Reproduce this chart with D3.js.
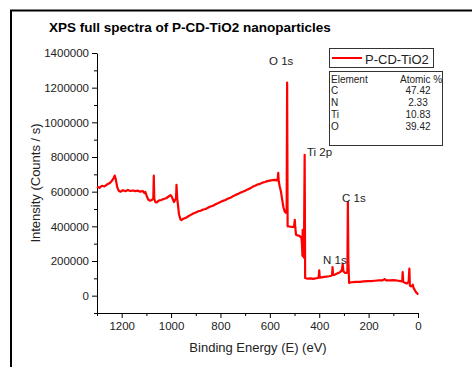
<!DOCTYPE html>
<html>
<head>
<meta charset="utf-8">
<script src="https://cdn.jsdelivr.net/npm/d3@7"></script>
<style>
  body { margin: 0; background: #fff; }
  text { font-family: "Liberation Sans", Arial, sans-serif; fill: #222; }
</style>
</head>
<body>
<div id="chart"></div>
<script>
// spectrum: binding energy (eV) and counts (thousands / s)
const bindingEnergy = [
  1300, 1290, 1280, 1270, 1260, 1250, 1240, 1232, 1228, 1224, 1218, 1212, 1205, 1195, 1185,
  1175, 1165, 1155, 1145, 1135, 1125, 1115, 1108, 1104, 1098, 1092, 1085, 1078, 1072, 1070,
  1068, 1064, 1058, 1050, 1040, 1030, 1020, 1010, 1002, 998, 993, 988, 984, 980, 978,
  975, 968, 962, 958, 950, 940, 930, 920, 910, 900, 890, 880, 870, 860, 850,
  840, 830, 820, 810, 800, 790, 780, 770, 760, 750, 740, 730, 720, 710, 700,
  690, 680, 670, 660, 650, 640, 630, 620, 610, 600, 590, 580, 572, 568, 566,
  564, 560, 555, 550, 545, 540, 535, 532, 530, 528, 520, 510, 502, 499, 497,
  494, 488, 482, 476, 472, 470, 468, 467, 465, 462, 459, 457, 452, 445, 435,
  425, 415, 405, 402, 400, 398, 390, 380, 370, 360, 352, 348, 346, 344, 338,
  330, 320, 312, 308, 305, 302, 296, 290, 286, 284, 282, 279, 275, 265, 250,
  235, 220, 205, 190, 175, 160, 145, 134, 130, 120, 110, 100, 90, 80, 70,
  64, 62, 60, 55, 50, 45, 38, 35, 33, 30, 25, 21, 18, 12, 8,
  4, 0
];
const intensity = [
  628, 622, 634, 630, 641, 648, 662, 680, 693, 672, 625, 605, 600, 608, 603,
  610, 604, 607, 603, 606, 600, 604, 592, 598, 572, 553, 548, 552, 560, 692,
  560, 540, 538, 548, 552, 558, 562, 572, 580, 574, 556, 540, 552, 560, 640,
  560, 470, 440, 436, 444, 450, 458, 466, 474, 480, 487, 490, 497, 500, 508,
  514, 519, 527, 533, 540, 547, 552, 560, 565, 573, 580, 586, 594, 600, 605,
  613, 619, 628, 634, 641, 645, 652, 656, 661, 664, 667, 668, 664, 676, 709,
  660, 630, 600, 553, 510, 486, 478, 480, 1229, 400, 399, 396, 398, 438, 395,
  351, 348, 346, 340, 332, 300, 230, 380, 240, 220, 813, 102, 100, 98, 100,
  97, 100, 102, 110, 146, 104, 106, 108, 110, 112, 115, 118, 165, 120, 120,
  126, 132, 140, 150, 184, 140, 132, 131, 135, 540, 200, 73, 77, 78, 80,
  80, 82, 84, 84, 86, 88, 88, 96, 88, 88, 88, 90, 88, 86, 84,
  82, 136, 80, 76, 73, 70, 80, 156, 60, 54, 55, 63, 45, 30, 20,
  15, 5
];

const yMajorTicks = [0, 200000, 400000, 600000, 800000, 1000000, 1200000, 1400000];
const yMinorTicks = [-100000, 100000, 300000, 500000, 700000, 900000, 1100000, 1300000];
const xMajorTicks = [1200, 1000, 800, 600, 400, 200, 0];
const xMinorTicks = [1300, 1100, 900, 700, 500, 300, 100];

const peakNames = ["O 1s", "Ti 2p", "C 1s", "N 1s"];
const peakLabelX = [269, 307, 342, 323];
const peakLabelY = [65, 156, 202, 264];

const elements = ["C", "N", "Ti", "O"];
const atomicPercent = ["47.42", "2.33", "10.83", "39.42"];

const WIDTH = 472;
const HEIGHT = 367;
const PLOT = { left: 97, right: 418, top: 53, bottom: 313 };

const svg = d3
  .select("#chart")
  .append("svg")
  .attr("width", WIDTH)
  .attr("height", HEIGHT);

// outer frame
svg
  .append("rect")
  .attr("x", 11)
  .attr("y", 10.5)
  .attr("width", 480)
  .attr("height", 380)
  .attr("fill", "none")
  .attr("stroke", "#000")
  .attr("stroke-width", 2);

const x = d3.scaleLinear().domain([1300, 0]).range([PLOT.left, PLOT.right]);
const y = d3.scaleLinear().domain([-100000, 1400000]).range([PLOT.bottom, PLOT.top]);

// title
svg
  .append("text")
  .attr("x", 49)
  .attr("y", 32)
  .attr("font-size", 13.5)
  .attr("font-weight", "bold")
  .style("fill", "#000")
  .text("XPS full spectra of P-CD-TiO2 nanoparticles");

// Y axis
const yAxis = svg.append("g").attr("transform", `translate(${PLOT.left},0)`);
yAxis
  .call(
    d3.axisLeft(y).tickValues(yMajorTicks).tickSize(5).tickSizeOuter(0).tickPadding(3)
      .tickFormat(d3.format("d"))
  )
  .call((g) => g.selectAll("text").attr("font-size", 11.5).style("font-family", "Liberation Sans, Arial"));
yAxis
  .append("g")
  .selectAll("line")
  .data(yMinorTicks)
  .join("line")
  .attr("x1", 0)
  .attr("x2", -3)
  .attr("y1", (d) => y(d) + 0.5)
  .attr("y2", (d) => y(d) + 0.5)
  .attr("stroke", "#000");

// X axis
const xAxis = svg.append("g").attr("transform", `translate(0,${PLOT.bottom})`);
xAxis
  .call(
    d3.axisBottom(x).tickValues(xMajorTicks).tickSize(5).tickSizeOuter(0).tickPadding(4)
      .tickFormat(d3.format("d"))
  )
  .call((g) => g.selectAll("text").attr("font-size", 11.5).style("font-family", "Liberation Sans, Arial"));
xAxis
  .append("g")
  .selectAll("line")
  .data(xMinorTicks)
  .join("line")
  .attr("x1", (d) => x(d) + 0.5)
  .attr("x2", (d) => x(d) + 0.5)
  .attr("y1", 0)
  .attr("y2", 3)
  .attr("stroke", "#000");

// axis titles
svg
  .append("text")
  .attr("transform", `translate(40,${(PLOT.top + PLOT.bottom) / 2}) rotate(-90)`)
  .attr("text-anchor", "middle")
  .attr("font-size", 13)
  .text("Intensity (Counts / s)");
svg
  .append("text")
  .attr("x", 258)
  .attr("y", 352)
  .attr("text-anchor", "middle")
  .attr("font-size", 13)
  .text("Binding Energy (E) (eV)");

// spectrum line
const points = bindingEnergy.map((be, i) => [be, intensity[i] * 1000]);
svg
  .append("path")
  .datum(points)
  .attr("fill", "none")
  .attr("stroke", "#ff0000")
  .attr("stroke-width", 2.2)
  .attr("stroke-linejoin", "round")
  .attr("d", d3.line((d) => x(d[0]), (d) => y(d[1])));

// peak labels
svg
  .append("g")
  .selectAll("text")
  .data(peakNames)
  .join("text")
  .attr("x", (d, i) => peakLabelX[i])
  .attr("y", (d, i) => peakLabelY[i])
  .attr("font-size", 11.5)
  .text((d) => d);

// legend
const legend = svg.append("g");
legend
  .append("rect")
  .attr("x", 329.5)
  .attr("y", 48.5)
  .attr("width", 104)
  .attr("height", 19)
  .attr("fill", "#fff")
  .attr("stroke", "#333");
legend
  .append("line")
  .attr("x1", 332)
  .attr("x2", 362)
  .attr("y1", 58)
  .attr("y2", 58)
  .attr("stroke", "#ff0000")
  .attr("stroke-width", 2);
legend
  .append("text")
  .attr("x", 365)
  .attr("y", 64)
  .attr("font-size", 13)
  .text("P-CD-TiO2");

// composition table
const table = svg.append("g");
table
  .append("rect")
  .attr("x", 329.5)
  .attr("y", 71.5)
  .attr("width", 113)
  .attr("height", 74)
  .attr("fill", "#fff")
  .attr("stroke", "#333");
table
  .append("text")
  .attr("x", 331)
  .attr("y", 82.5)
  .attr("font-size", 10)
  .text("Element");
table
  .append("text")
  .attr("x", 400)
  .attr("y", 82.5)
  .attr("font-size", 10)
  .text("Atomic %");
table
  .selectAll("text.el")
  .data(elements)
  .join("text")
  .attr("class", "el")
  .attr("x", 331)
  .attr("y", (d, i) => 94 + i * 12)
  .attr("font-size", 10)
  .text((d) => d);
table
  .selectAll("text.pct")
  .data(atomicPercent)
  .join("text")
  .attr("class", "pct")
  .attr("x", 418)
  .attr("y", (d, i) => 94 + i * 12)
  .attr("text-anchor", "middle")
  .attr("font-size", 10)
  .text((d) => d);
</script>
</body>
</html>
